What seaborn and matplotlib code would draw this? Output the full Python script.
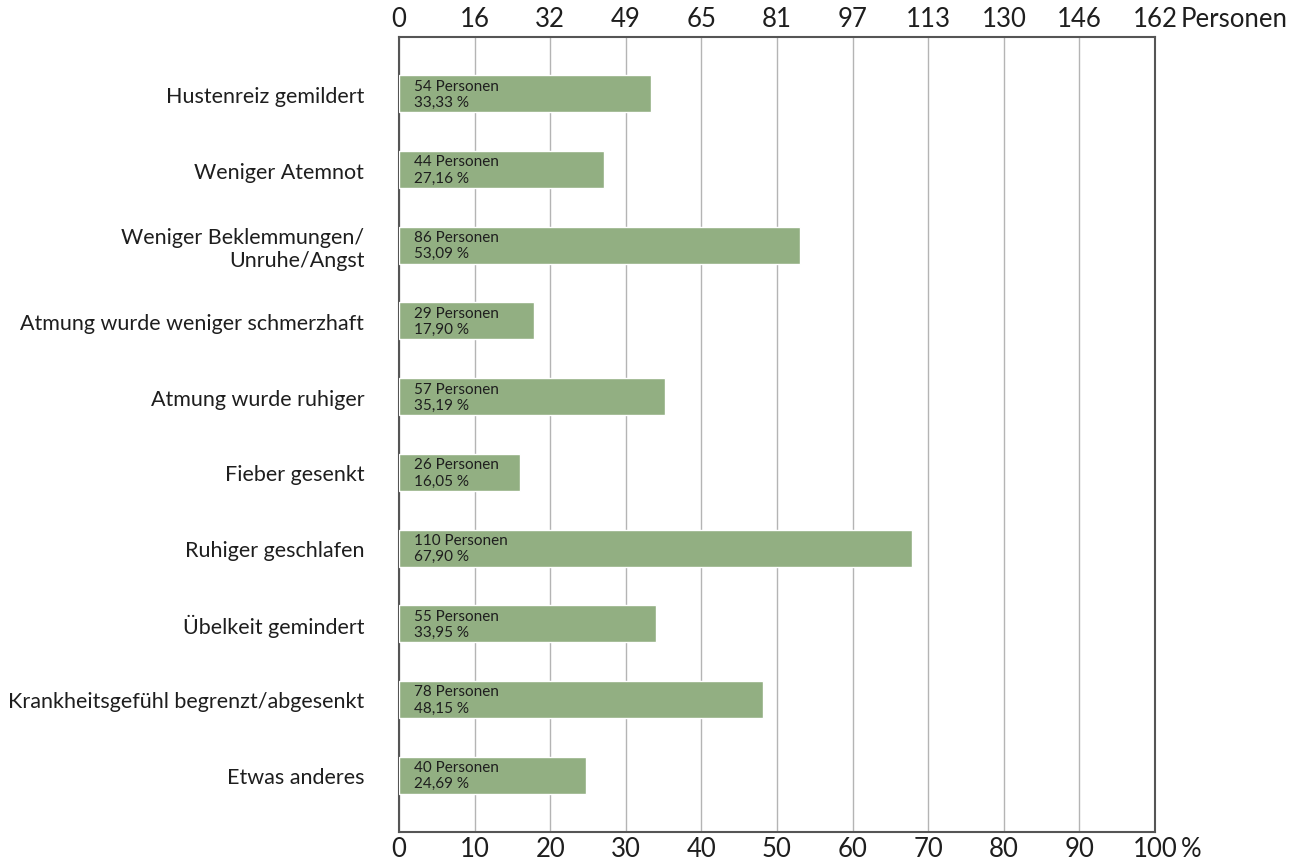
"""
Horizontal bar chart: Wirkung bei Patienten (Personen und Prozent).
"""

import matplotlib.pyplot as plt
import pandas as pd
import seaborn as sns

# data
categories = [
    "Hustenreiz gemildert",
    "Weniger Atemnot",
    "Weniger Beklemmungen/\nUnruhe/Angst",
    "Atmung wurde weniger schmerzhaft",
    "Atmung wurde ruhiger",
    "Fieber gesenkt",
    "Ruhiger geschlafen",
    "Übelkeit gemindert",
    "Krankheitsgefühl begrenzt/abgesenkt",
    "Etwas anderes",
]
persons = [54, 44, 86, 29, 57, 26, 110, 55, 78, 40]
percent = [33.33, 27.16, 53.09, 17.90, 35.19, 16.05, 67.90, 33.95, 48.15, 24.69]
total_persons = 162
pct_ticks = [0, 10, 20, 30, 40, 50, 60, 70, 80, 90, 100]
person_tick_labels = ["0", "16", "32", "49", "65", "81", "97", "113", "130", "146", "162"]

BAR_COLOR = "#92af82"
TEXT_COLOR = "#1e1e1e"
FONT = "Lato"

sns.set_style("white")
plt.rcParams["font.family"] = [FONT, "DejaVu Sans"]

df = pd.DataFrame({"Kategorie": categories, "Prozent": percent, "Personen": persons})

fig = plt.figure(figsize=(12.95, 8.62), dpi=100)
ax = fig.add_axes([399 / 1295, 1 - 833 / 862, (1155 - 399) / 1295, (833 - 38) / 862])

sns.barplot(
    data=df,
    x="Prozent",
    y="Kategorie",
    orient="h",
    color=BAR_COLOR,
    saturation=1,
    width=0.49,
    ax=ax,
    zorder=3,
)

ax.set_xlim(0, 100)
ax.set_ylim(9.75, -0.75)
ax.set_xlabel("")
ax.set_ylabel("")

# gridlines behind bars
ax.set_axisbelow(True)
ax.xaxis.grid(True, color="#b4b4b4", linewidth=1.0, zorder=0)
ax.yaxis.grid(False)

for side in ["left", "right", "top", "bottom"]:
    ax.spines[side].set_visible(True)
    ax.spines[side].set_color("#555555")
    ax.spines[side].set_linewidth(1.5)

ax.set_xticks(pct_ticks)
ax.set_xticklabels([str(t) for t in pct_ticks])
ax.tick_params(axis="x", length=0, pad=3, labelsize=18.5, labelcolor=TEXT_COLOR)
ax.tick_params(axis="y", length=0, pad=25, labelsize=15.5, labelcolor=TEXT_COLOR)

# top axis in persons
top = ax.secondary_xaxis(
    "top",
    functions=(lambda p: p * total_persons / 100, lambda n: n * 100 / total_persons),
)
top.set_xticks([t * total_persons / 100 for t in pct_ticks])
top.set_xticklabels(person_tick_labels)
top.tick_params(axis="x", length=0, pad=4, labelsize=18.5, labelcolor=TEXT_COLOR)
top.spines["top"].set_visible(False)

# unit suffixes after the last tick labels
ax.annotate("%", xy=(1, 0), xycoords="axes fraction", xytext=(26, -4),
            textcoords="offset pixels", ha="left", va="top", fontsize=18.5, color=TEXT_COLOR)
ax.annotate("Personen", xy=(1, 1), xycoords="axes fraction", xytext=(26, 6),
            textcoords="offset pixels", ha="left", va="bottom", fontsize=18.5, color=TEXT_COLOR)

# labels inside bars
for i, (n, p) in enumerate(zip(persons, percent)):
    txt = f"{n} Personen\n{p:.2f} %".replace(".", ",")
    ax.annotate(
        txt,
        xy=(0, i),
        xytext=(15, 0),
        textcoords="offset pixels",
        va="center",
        ha="left",
        fontsize=11,
        color=TEXT_COLOR,
        linespacing=1.2,
        zorder=4,
    )

fig.savefig("out.png", dpi=100)
